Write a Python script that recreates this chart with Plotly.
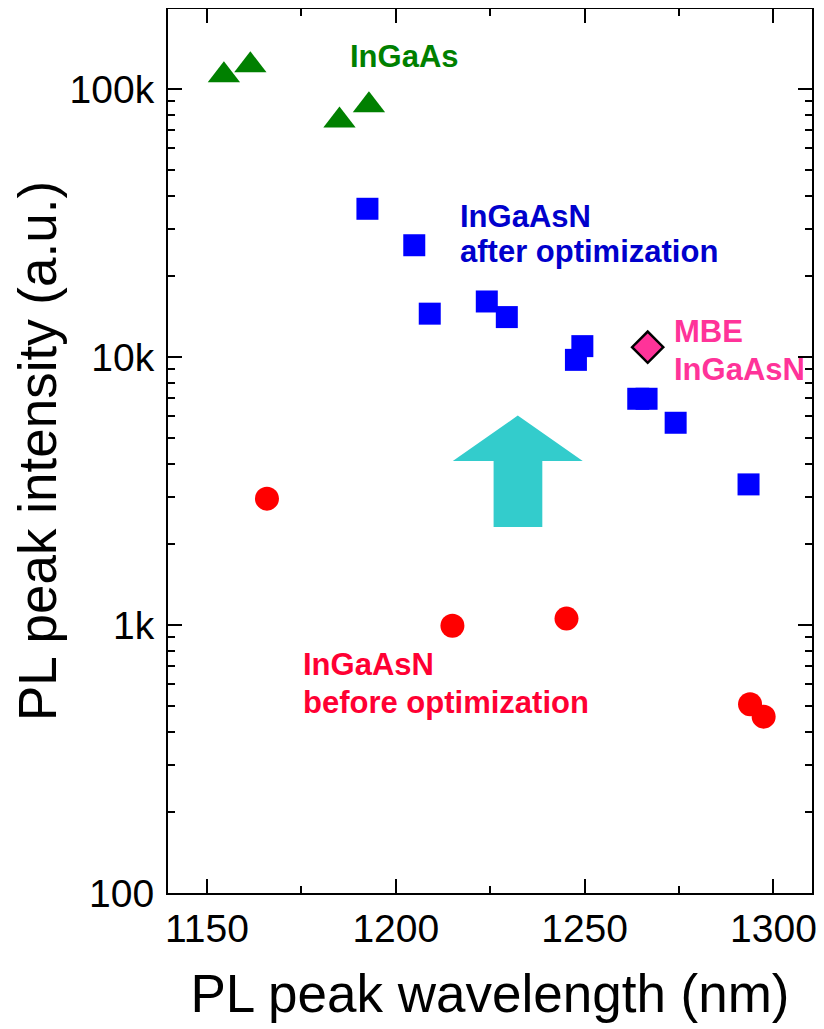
import plotly.graph_objects as go

# InGaAs (green triangles)
ingaas_wl = [1154.5, 1161.5, 1185.1, 1192.9]
ingaas_pl = [112500, 122400, 76200, 86800]

# InGaAsN after optimization (blue squares)
after_wl = [1192.5, 1204.9, 1209.0, 1224.1, 1229.4, 1249.4, 1247.7, 1264.2, 1266.4, 1274.1, 1293.4]
after_pl = [35700, 26100, 14500, 16100, 14080, 10970, 9750, 6980, 6980, 5680, 3345]

# InGaAsN before optimization (red circles)
before_wl = [1165.9, 1215.0, 1245.2, 1293.8, 1297.4]
before_pl = [2960, 994, 1056, 506, 455]

# MBE InGaAsN (pink diamond)
mbe_wl = [1266.7]
mbe_pl = [10870]

# improvement arrow outline (data units)
arrow_x = [1232.3, 1249.5, 1238.8, 1238.8, 1225.9, 1225.9, 1215.1, 1232.3]
arrow_y = [6040, 4090, 4090, 2320, 2320, 4090, 4090, 6040]

ytick_vals = [100, 1000, 10000, 100000]
ytick_text = ['100', '1k', '10k', '100k']

FONT = 'Arial, Liberation Sans, sans-serif'

fig = go.Figure()

fig.add_trace(go.Scatter(x=arrow_x, y=arrow_y, mode='lines', fill='toself',
                         fillcolor='#33CCCC', line=dict(width=0, color='#33CCCC'),
                         hoverinfo='skip'))

fig.add_trace(go.Scatter(x=ingaas_wl, y=ingaas_pl, mode='markers', name='InGaAs',
                         marker=dict(symbol='triangle-up', size=28, color='#008000',
                                     line=dict(width=0))))
fig.add_trace(go.Scatter(x=after_wl, y=after_pl, mode='markers', name='after',
                         marker=dict(symbol='square', size=22, color='#0000FF',
                                     line=dict(width=0))))
fig.add_trace(go.Scatter(x=before_wl, y=before_pl, mode='markers', name='before',
                         marker=dict(symbol='circle', size=24, color='#FF0000',
                                     line=dict(width=0))))
fig.add_trace(go.Scatter(x=mbe_wl, y=mbe_pl, mode='markers', name='MBE',
                         marker=dict(symbol='diamond', size=24, color='#FF3399',
                                     line=dict(width=2.5, color='black'))))

# text labels: (text, x, log10 y, colour)
labels = [
    ('InGaAs', 1187.3, 5.119, '#008000'),
    ('InGaAsN', 1216.4, 4.524, '#0000CC'),
    ('after optimization', 1216.4, 4.394, '#0000CC'),
    ('MBE', 1273.2, 4.093, '#FF3399'),
    ('InGaAsN', 1273.2, 3.953, '#FF3399'),
    ('InGaAsN', 1175.0, 2.852, '#FF0033'),
    ('before optimization', 1175.0, 2.711, '#FF0033'),
]
for txt, lx, ly, col in labels:
    fig.add_annotation(x=lx, y=ly, xref='x', yref='y', text='<b>%s</b>' % txt,
                       showarrow=False, xanchor='left', yanchor='middle',
                       font=dict(family=FONT, size=31, color=col))

# page body adds 8px at top/left, so margins are shifted by that much
fig.update_layout(
    width=824, height=1029,
    margin=dict(l=160, r=20, t=1, b=144),
    plot_bgcolor='white', paper_bgcolor='white',
    showlegend=False,
    font=dict(family=FONT, color='black'),
)

fig.update_xaxes(
    range=[1139.7, 1310.2], tick0=1150, dtick=50,
    showgrid=False, zeroline=False, automargin=False,
    showline=True, linecolor='black', linewidth=2, mirror='ticks',
    ticks='inside', ticklen=14, tickwidth=2, tickcolor='black',
    minor=dict(dtick=25, ticks='inside', ticklen=7, tickwidth=2, tickcolor='black'),
    tickfont=dict(size=39, color='black'),
    title=dict(text='PL peak wavelength (nm)', font=dict(size=53, color='black'), standoff=26),
)

minor_vals = [m * 10 ** e for e in range(2, 6) for m in range(2, 10)]
fig.update_yaxes(
    type='log', range=[2, 5.298],
    tickvals=ytick_vals, ticktext=ytick_text,
    showgrid=False, zeroline=False, automargin=False,
    showline=True, linecolor='black', linewidth=2, mirror='ticks',
    ticks='inside', ticklen=14, tickwidth=2, tickcolor='black',
    minor=dict(tickvals=minor_vals, ticks='inside', ticklen=7, tickwidth=2, tickcolor='black'),
    tickfont=dict(size=39, color='black'), ticklabelstandoff=4,
    title=dict(text='PL peak intensity (a.u.)', font=dict(size=53, color='black'), standoff=4),
)

fig.write_html('out.html')
